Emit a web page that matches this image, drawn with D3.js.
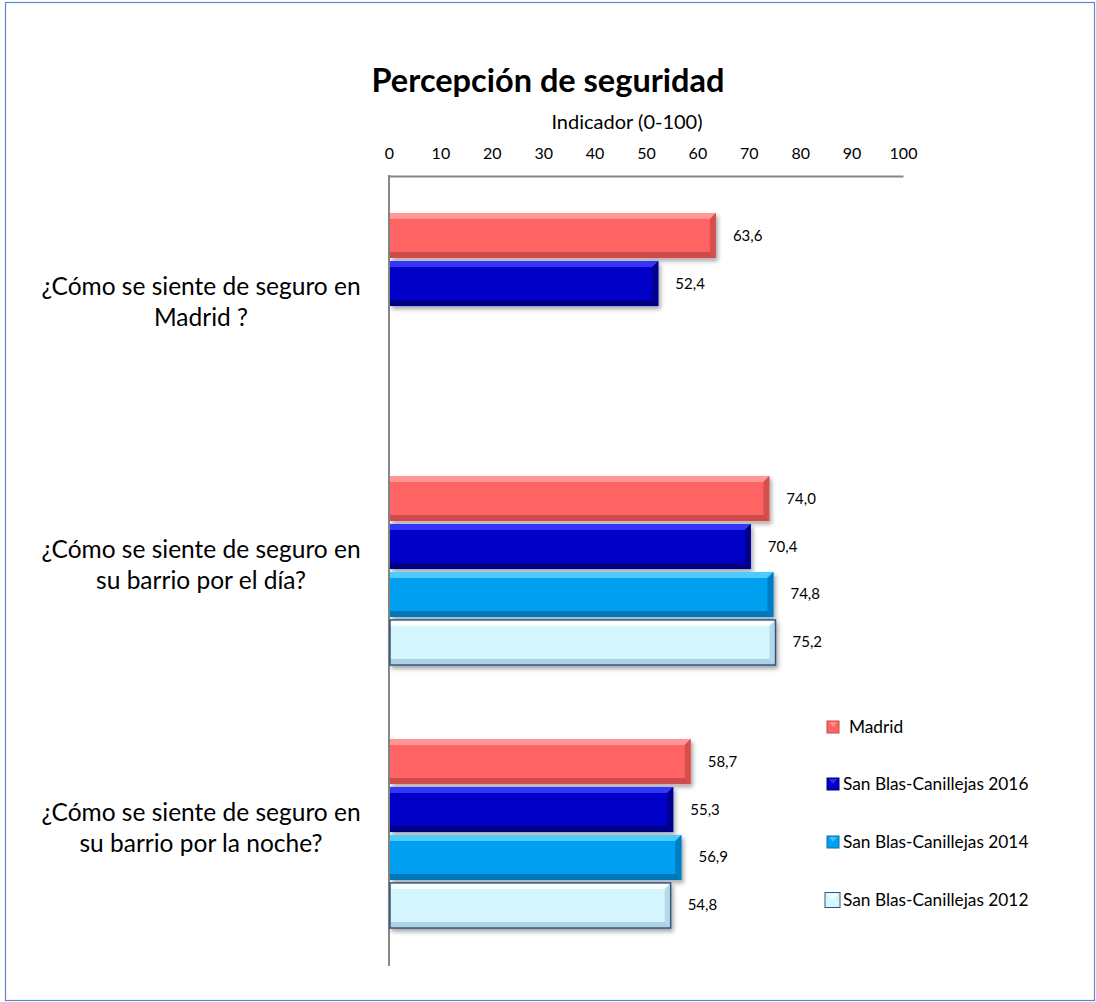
<!DOCTYPE html>
<html><head><meta charset="utf-8">
<script src="https://cdn.jsdelivr.net/npm/d3@7"></script>
<style>body{margin:0;background:#fff}svg{display:block}</style>
</head><body>
<script>
const categories = [
  ["¿Cómo se siente de seguro en", "Madrid ?"],
  ["¿Cómo se siente de seguro en", "su barrio por el día?"],
  ["¿Cómo se siente de seguro en", "su barrio por la noche?"]
];
const seriesNames = ["Madrid", "San Blas-Canillejas 2016", "San Blas-Canillejas 2014", "San Blas-Canillejas 2012"];
const madrid = [63.6, 74.0, 58.7];
const sb2016 = [52.4, 70.4, 55.3];
const sb2014 = [null, 74.8, 56.9];
const sb2012 = [null, 75.2, 54.8];
const tickValues = [0, 10, 20, 30, 40, 50, 60, 70, 80, 90, 100];

const seriesValues = [madrid, sb2016, sb2014, sb2012];
const colors = [
  {base:"#ff6464", light:"#ffa0a0", dark:"#c84848", stroke:"none"},
  {base:"#0000c8", light:"#4040ff", dark:"#00007a", stroke:"none"},
  {base:"#009ff0", light:"#5ad2ff", dark:"#0572b0", stroke:"none"},
  {base:"#d6f6ff", light:"#ffffff", dark:"#a9cfe0", stroke:"#34557f"}
];
const FONT = "Lato, 'Open Sans', sans-serif";

const W = 1096, H = 1002;
const svg = d3.select("body").append("svg").attr("width", W).attr("height", H);
const defs = svg.append("defs");
const f = defs.append("filter").attr("id","sh").attr("x","-5%").attr("y","-20%").attr("width","115%").attr("height","160%");
f.append("feDropShadow").attr("dx",2).attr("dy",3).attr("stdDeviation",2).attr("flood-color","#000").attr("flood-opacity",0.35);

// frame
svg.append("rect").attr("x",5.5).attr("y",2.5).attr("width",1089).attr("height",998)
  .attr("fill","none").attr("stroke","#5b87c5").attr("stroke-width",1.2);

const x = d3.scaleLinear().domain([0,100]).range([389, 903]);
const y0 = d3.scaleBand().domain(d3.range(categories.length)).range([176, 965]);
const y1 = d3.scaleBand().domain(d3.range(seriesNames.length)).range([36, y0.bandwidth()-36]).paddingInner(0.06).paddingOuter(0.02);

// title
svg.append("text").attr("x",548).attr("y",92).attr("text-anchor","middle")
  .attr("font-family",FONT).attr("font-weight","bold").attr("font-size",32.5).attr("fill","#000")
  .text("Percepción de seguridad");
svg.append("text").attr("x",627).attr("y",129).attr("text-anchor","middle")
  .attr("font-family",FONT).attr("font-size",20).attr("fill","#000")
  .text("Indicador (0-100)");

// axes
const xAxis = d3.axisTop(x).tickValues(tickValues).tickSize(0).tickPadding(17);
const gx = svg.append("g").attr("transform","translate(0,176)").call(xAxis);
gx.select(".domain").attr("stroke","#878787").attr("stroke-width",2);
gx.selectAll("text").attr("font-family",FONT).attr("font-size",16).attr("fill","#000");

svg.append("line").attr("x1",389).attr("x2",389).attr("y1",175).attr("y2",966)
  .attr("stroke","#878787").attr("stroke-width",2);

// category labels
const catFs = 24.5;
categories.forEach((lines, i) => {
  const cy = y0(i) + y0.bandwidth()/2 - 6;
  const t = svg.append("text").attr("text-anchor","middle").attr("font-family",FONT)
    .attr("font-size",catFs).attr("fill","#000");
  lines.forEach((ln, k) => {
    t.append("tspan").attr("x",201).attr("y", cy - 15.5*(lines.length-1) + 31*k + catFs*0.36).text(ln);
  });
});

function bevelBar(g, x0, yTop, w, h, c, b) {
  const gg = g.append("g").attr("filter","url(#sh)");
  gg.append("rect").attr("x",x0).attr("y",yTop).attr("width",w).attr("height",h).attr("fill",c.base);
  const x1 = x0 + w, y1b = yTop + h;
  gg.append("path").attr("d",`M${x0},${yTop}L${x1},${yTop}L${x1-b},${yTop+b}L${x0},${yTop+b}Z`).attr("fill",c.light).attr("opacity",0.85);
  gg.append("path").attr("d",`M${x0},${y1b}L${x1},${y1b}L${x1-b},${y1b-b}L${x0},${y1b-b}Z`).attr("fill",c.dark).attr("opacity",0.9);
  gg.append("path").attr("d",`M${x1},${yTop}L${x1},${y1b}L${x1-b},${y1b-b}L${x1-b},${yTop+b}Z`).attr("fill",c.dark).attr("opacity",0.75);
  if (c.stroke !== "none") {
    gg.append("rect").attr("x",x0).attr("y",yTop).attr("width",w).attr("height",h)
      .attr("fill","none").attr("stroke",c.stroke).attr("stroke-width",1.5);
  }
}

const fmt = v => d3.format(".1f")(v).replace(".", ",");
const barsG = svg.append("g");
categories.forEach((_, i) => {
  seriesValues.forEach((vals, s) => {
    const v = vals[i];
    if (v == null) return;
    const yy = y0(i) + y1(s);
    bevelBar(barsG, x(0)+1, yy, x(v)-x(0)-1, y1.bandwidth(), colors[s], 6);
    svg.append("text").attr("x", x(v)+17).attr("y", yy + y1.bandwidth()/2 + 5)
      .attr("font-family",FONT).attr("font-size",15).attr("fill","#000").text(fmt(v));
  });
});

// legend
const legY = [727, 784, 842, 900];
seriesNames.forEach((name, s) => {
  const c = colors[s];
  const ly = legY[s];
  const sz = s === 3 ? 15 : 12;
  const lx = s === 3 ? 825 : 827;
  const g = svg.append("g");
  g.append("rect").attr("x",lx).attr("y",ly-sz/2).attr("width",sz).attr("height",sz)
    .attr("fill",c.base).attr("stroke", s===3 ? "#34557f" : c.dark).attr("stroke-width",1);
  g.append("path").attr("d",`M${lx+2},${ly-sz/2+1}L${lx+sz-2},${ly-sz/2+1}L${lx+sz/2},${ly}Z`).attr("fill",c.light).attr("opacity",0.7);
  svg.append("text").attr("x", s===0 ? 849 : 843).attr("y", ly+6)
    .attr("font-family",FONT).attr("font-size",17.3).attr("fill","#000").text(name);
});
</script>
</body></html>
